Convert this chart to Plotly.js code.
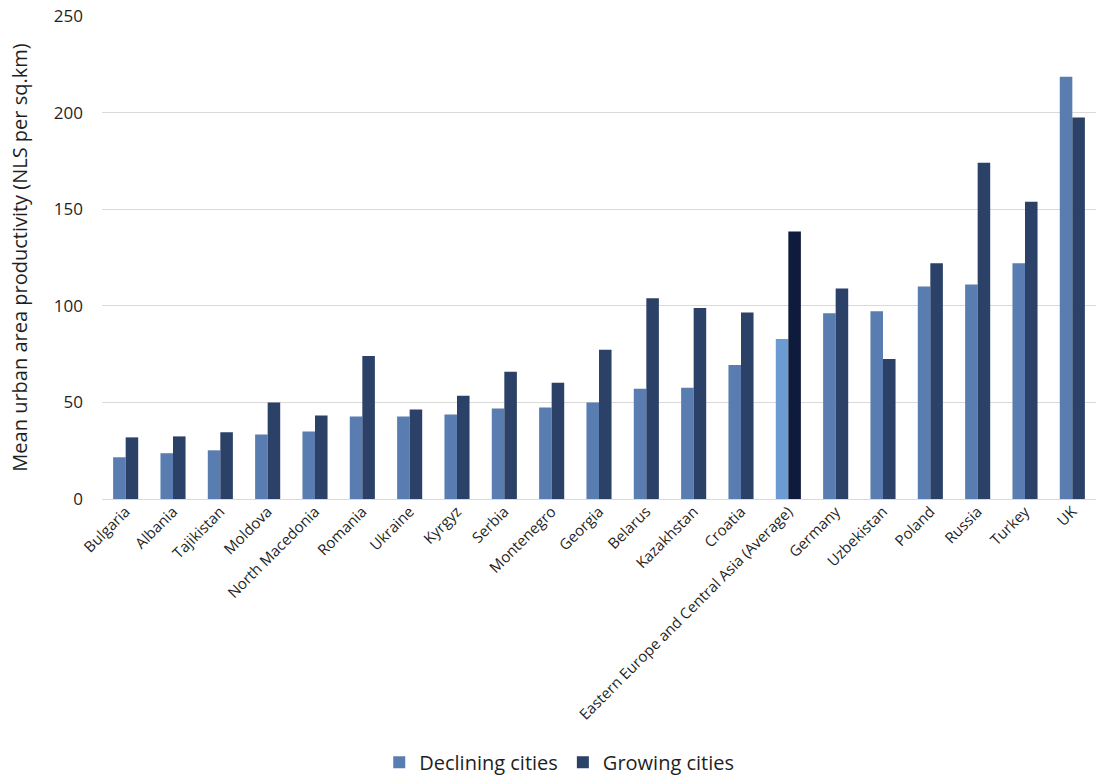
<!DOCTYPE html>
<html>
<head>
<meta charset="utf-8">
<script src="https://cdn.plot.ly/plotly-3.0.1.min.js"></script>
<style>html,body{margin:0;padding:0;background:#fff;}#chart{width:1098px;height:784px;}</style>
</head>
<body>
<div id="chart"></div>
<script>
const categories = ["Bulgaria","Albania","Tajikistan","Moldova","North Macedonia","Romania","Ukraine","Kyrgyz","Serbia","Montenegro","Georgia","Belarus","Kazakhstan","Croatia","Eastern Europe and Central Asia (Average)","Germany","Uzbekistan","Poland","Russia","Turkey","UK"];
const declining = [21.6,23.7,25.2,33.4,35,42.7,42.7,43.7,46.8,47.3,49.9,57.1,57.6,69.4,82.8,96.2,97.2,110,111,122,218.6];
const growing = [31.9,32.4,34.5,49.9,43.2,74,46.3,53.5,65.8,60.2,77.2,103.9,98.8,96.5,138.4,109,72.5,122,174,153.8,197.5];
const highlight = "Eastern Europe and Central Asia (Average)";

const decColors = categories.map(c => c === highlight ? "#6b9bd2" : "#5a7db1");
const groColors = categories.map(c => c === highlight ? "#0e1b3d" : "#2b4168");

const font = "Open Sans, Noto Sans, sans-serif";

const data = [
  {type:"bar", name:"Declining cities", x:categories, y:declining, marker:{color:decColors}},
  {type:"bar", name:"Growing cities", x:categories, y:growing, marker:{color:groColors}}
];

const layout = {
  width:1098, height:784,
  margin:{l:102, r:2, t:16, b:282},
  barmode:"group", bargap:0.47, bargroupgap:0,
  paper_bgcolor:"#fff", plot_bgcolor:"#fff",
  font:{family:font, color:"#1f1f1f"},
  showlegend:true,
  legend:{orientation:"h", x:0.46, xanchor:"center", y:-0.545, yanchor:"middle",
          font:{size:20, color:"#1f1f1f", family:font}, itemwidth:30, traceorder:"normal"},
  xaxis:{type:"category", tickangle:-45, tickfont:{size:15, color:"#1f1f1f"},
         showgrid:false, showline:false, ticks:"", automargin:false},
  yaxis:{range:[0,250], dtick:50, tick0:0, showgrid:true, gridcolor:"#d9d9d9", gridwidth:1,
         zeroline:true, zerolinecolor:"#d9d9d9", zerolinewidth:1,
         tickfont:{size:17, color:"#1f1f1f"}, ticks:"", ticklabelstandoff:18,
         title:{text:"Mean urban area productivity (NLS per sq.km)", font:{size:20, color:"#1f1f1f"}, standoff:20},
         automargin:false}
};

Plotly.newPlot("chart", data, layout, {displayModeBar:false, staticPlot:true});
</script>
</body>
</html>
